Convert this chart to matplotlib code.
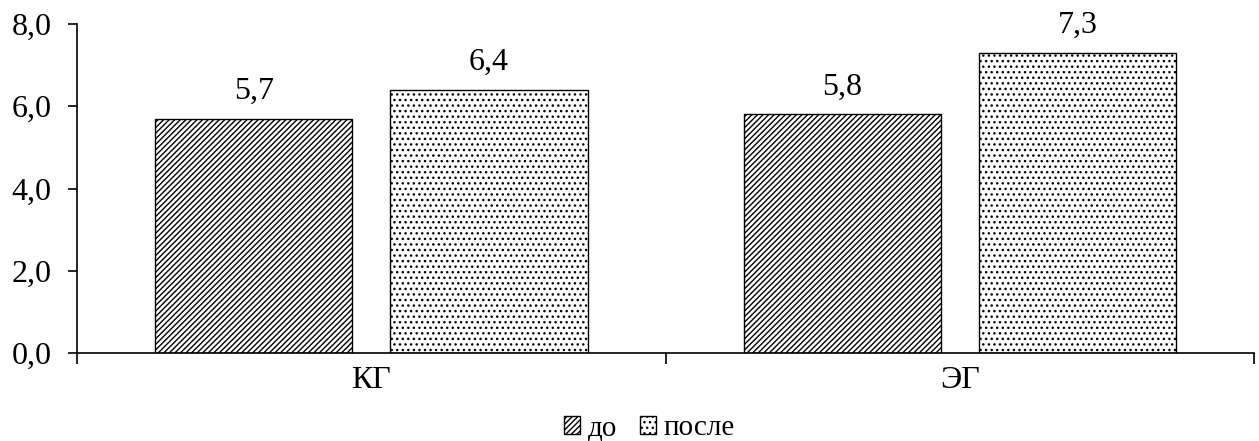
#!/usr/bin/env python3
"""Bar chart: scores before and after, control vs experimental group."""

import matplotlib

matplotlib.use("Agg")
import matplotlib.pyplot as plt
import numpy as np
from matplotlib.patches import Patch

groups = ["КГ", "ЭГ"]
series_names = ["до", "после"]
before = [5.7, 5.8]
after = [6.4, 7.3]

plt.rcParams["font.family"] = ["Liberation Serif", "DejaVu Serif"]
plt.rcParams["hatch.linewidth"] = 1.0

HATCHES = ["//////", "..."]
FS = 23


def fmt(v: float) -> str:
    return f"{v:.1f}".replace(".", ",")


def main() -> None:
    fig = plt.figure(figsize=(12.59, 4.41), dpi=100)
    ax = fig.add_axes([0.0612, 0.1995, 0.935, 0.7461])

    x = np.arange(len(groups), dtype=float)
    width = 0.335
    offset = 0.2
    for vals, dx, hatch, name in zip([before, after], [-offset, offset], HATCHES, series_names):
        bars = ax.bar(x + dx, vals, width=width, facecolor="white", edgecolor="black",
                      linewidth=1.0, hatch=hatch, label=name)
        for rect, v in zip(bars, vals):
            ax.annotate(fmt(v), (rect.get_x() + rect.get_width() / 2.0, v),
                        xytext=(0, 9), textcoords="offset points",
                        ha="center", va="bottom", fontsize=FS)

    ax.set_xlim(-0.5, len(groups) - 0.5)
    ax.set_ylim(0, 8)
    ax.set_yticks(np.arange(0, 8.1, 2.0))
    ax.set_yticklabels([fmt(v) for v in np.arange(0, 8.1, 2.0)], fontsize=FS)
    ax.tick_params(axis="y", direction="out", length=6.5, width=1.2, pad=12)

    # category boundaries as ticks, labels on minor ticks in the middle
    ax.set_xticks(np.arange(-0.5, len(groups), 1.0))
    ax.set_xticklabels([])
    ax.tick_params(axis="x", which="major", direction="out", length=8, width=1.2)
    ax.set_xticks(x, minor=True)
    ax.set_xticklabels(groups, minor=True, fontsize=FS)
    ax.tick_params(axis="x", which="minor", length=0, pad=9)

    for side in ("top", "right"):
        ax.spines[side].set_visible(False)
    for side in ("left", "bottom"):
        ax.spines[side].set_linewidth(1.2)

    handles = [Patch(facecolor="white", edgecolor="black", hatch=h, label=n)
               for h, n in zip(HATCHES, series_names)]
    fig.legend(handles=handles, loc="lower center", bbox_to_anchor=(0.516, -0.06),
               ncol=2, frameon=False, fontsize=21, handlelength=0.55, handleheight=0.55,
               handletextpad=0.25, columnspacing=0.8)

    fig.savefig("out.png", dpi=100)
    plt.close(fig)


if __name__ == "__main__":
    main()
